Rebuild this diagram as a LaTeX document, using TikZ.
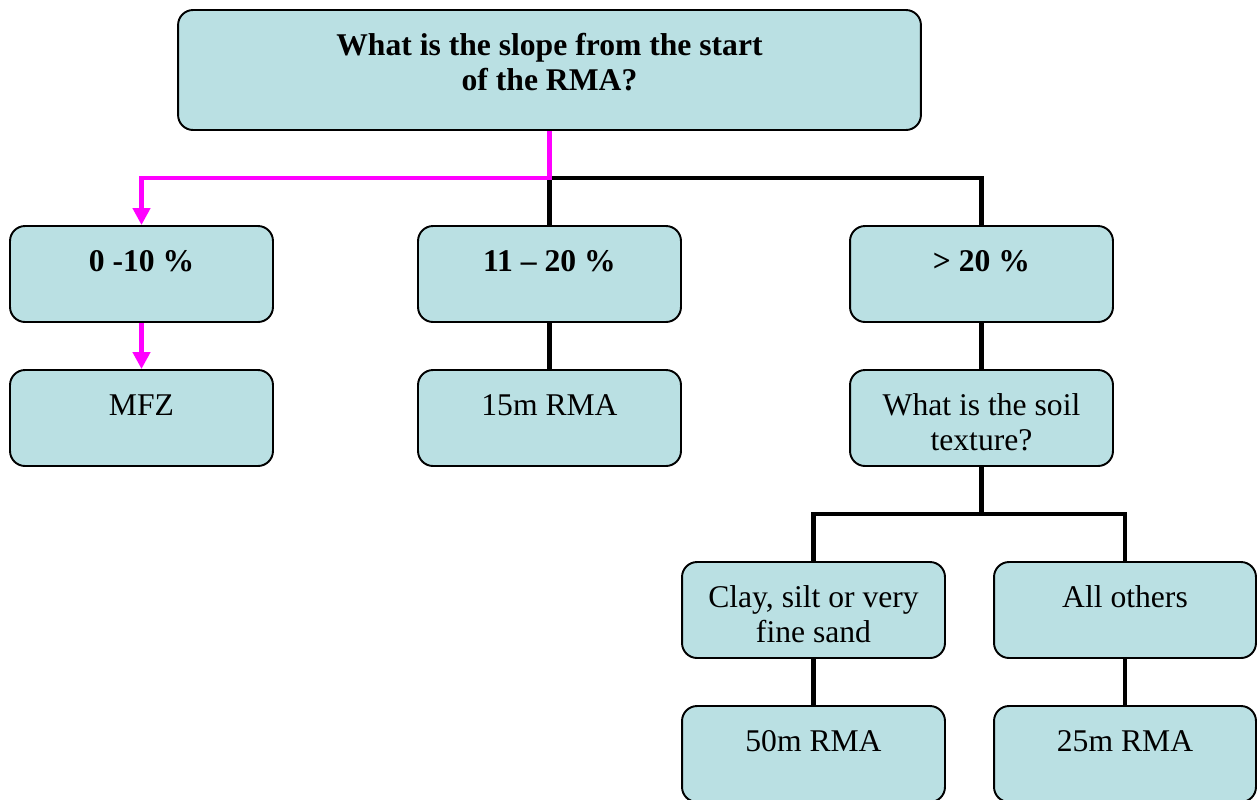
\documentclass[tikz,border=0pt]{standalone}
\usepackage{fontspec}
\setmainfont{Liberation Serif}
\usetikzlibrary{arrows.meta}
\definecolor{boxfill}{RGB}{186,224,227}
\definecolor{pathmag}{RGB}{255,0,255}
% top-aligned text inside a fixed-size box
\newcommand\btxt[3]{\parbox[c][#2][t]{#1}{\centering\rule{0pt}{0.9cm}#3}}
\begin{document}
\begin{tikzpicture}[x=0.02cm,y=-0.02cm,
  box/.style={draw=black,line width=1.1pt,fill=boxfill,rounded corners=0.3cm,
    inner sep=0pt,font={\fontsize{18}{20.4}\selectfont}},
  link/.style={draw=black,line width=2.8pt},
  hot/.style={draw=pathmag,line width=2.8pt},
  hotarrow/.style={hot,-{Triangle[width=0.34cm,length=0.34cm]}}]
\useasboundingbox (0,0) rectangle (1257,799);

% question at the top
\node[box] (top) at (549.5,70) {\btxt{14.86cm}{2.4cm}{\bfseries What is the slope from the start\\ of the RMA?}};

% slope classes
\node[box] (low) at (141.5,274) {\btxt{5.26cm}{1.92cm}{\bfseries 0 -10 \%}};
\node[box] (mid) at (549.5,274) {\btxt{5.26cm}{1.92cm}{\bfseries 11 – 20 \%}};
\node[box] (steep) at (981.5,274) {\btxt{5.26cm}{1.92cm}{\bfseries > 20 \%}};

% outcomes / follow-up question
\node[box] (mfz) at (141.5,418) {\btxt{5.26cm}{1.92cm}{MFZ}};
\node[box] (rma15) at (549.5,418) {\btxt{5.26cm}{1.92cm}{15m RMA}};
\node[box] (soil) at (981.5,418) {\btxt{5.26cm}{1.92cm}{What is the soil\\ texture?}};

% soil texture classes
\node[box] (fine) at (813.5,610) {\btxt{5.26cm}{1.92cm}{Clay, silt or very\\ fine sand}};
\node[box] (others) at (1125,610) {\btxt{5.24cm}{1.92cm}{All others}};

% buffer widths
\node[box] (rma50) at (813.5,754) {\btxt{5.26cm}{1.92cm}{50m RMA}};
\node[box] (rma25) at (1125,754) {\btxt{5.24cm}{1.92cm}{25m RMA}};

% junctions
\coordinate (j1) at (549.5,178);
\coordinate (j2) at (981.5,514);

% tree connectors
\draw[link] (j1) -| (steep.north);
\draw[link] (j1) -- (mid.north);
\draw[link] (mid.south) -- (rma15.north);
\draw[link] (steep.south) -- (soil.north);
\draw[link] (soil.south) -- (j2);
\draw[link] (j2) -| (fine.north);
\draw[link] (j2) -| (others.north);
\draw[link] (fine.south) -- (rma50.north);
\draw[link] (others.south) -- (rma25.north);

% highlighted path
\draw[hotarrow] (top.south) -- (j1) -| (low.north);
\draw[hotarrow] (low.south) -- (mfz.north);
\end{tikzpicture}
\end{document}
